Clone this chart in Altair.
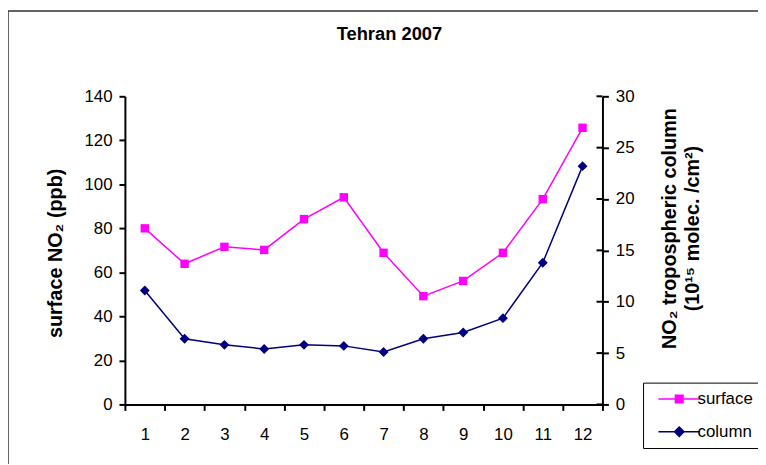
import altair as alt
import pandas as pd

months = list(range(1, 13))
surface = [80.0, 63.9, 71.6, 70.2, 84.2, 94.1, 68.9, 49.2, 56.1, 68.9, 93.3, 125.7]
column = [11.1, 6.4, 5.8, 5.4, 5.8, 5.7, 5.1, 6.4, 7.0, 8.4, 13.8, 23.2]
series_names = ["surface", "column"]
series_colors = ["#FF00FF", "#000080"]
left_ticks = [0, 20, 40, 60, 80, 100, 120, 140]
right_ticks = [0, 5, 10, 15, 20, 25, 30]

df = pd.DataFrame({"month": months, "surface": surface, "column": column})
rt = pd.DataFrame({"column": right_ticks})
frame = pd.DataFrame({"a": [0]})
leg = pd.DataFrame({"series": series_names})

W, H = 482, 311
FONT = "Liberation Sans"

legend_paths = [
    "M-3,0H3M-0.55,-0.55H0.55V0.55H-0.55Z",
    "M-3,0H3M0,-0.68L0.68,0L0,0.68L-0.68,0Z",
]

def make_legend():
    return alt.Legend(
        title=None, orient="none", legendX=523, legendY=289,
        strokeColor="#000000", fillColor="white", padding=8,
        labelFont=FONT, labelFontSize=17, labelColor="black",
        symbolSize=196, symbolStrokeWidth=1.5, symbolOffset=20, labelOffset=10,
        symbolOpacity=1, rowPadding=15,
    )

color = alt.Color("series:N", scale=alt.Scale(domain=series_names, range=series_colors),
                  legend=make_legend())
shape = alt.Shape("series:N", scale=alt.Scale(domain=series_names, range=legend_paths),
                  legend=make_legend())

x = alt.X(
    "month:O",
    scale=alt.Scale(type="band", paddingInner=0, paddingOuter=0),
    axis=alt.Axis(title=None, labelAngle=0, tickBand="extent", labelPadding=16),
)

y_left = alt.Y(
    "surface:Q",
    scale=alt.Scale(domain=[0, 140], nice=False),
    axis=alt.Axis(orient="left", values=left_ticks, title="surface NO₂ (ppb)",
                  labelPadding=7, titleAngle=270, titleX=-70, titleY=158,
                  titleBaseline="middle", titleAlign="center"),
)
y_right = alt.Y(
    "column:Q",
    scale=alt.Scale(domain=[0, 30], nice=False),
    axis=alt.Axis(orient="right", values=right_ticks,
                  title=["NO₂ tropospheric column", "(10¹⁵ molec. /cm²)"],
                  labelPadding=7, titleAngle=270, titleX=68, titleY=133,
                  titleBaseline="middle", titleAlign="center", titleLineHeight=23),
)

surf_base = alt.Chart(df).transform_calculate(series="'surface'")
surf_line = surf_base.mark_line(strokeWidth=1.5).encode(x=x, y=y_left, color=color)
surf_pts = surf_base.mark_point(shape="square", filled=True, size=72, opacity=1).encode(
    x=x, y=y_left, color=color)

col_base = alt.Chart(df).transform_calculate(series="'column'")
col_line = col_base.mark_line(strokeWidth=1.5).encode(x=x, y=y_right, color=color)
col_pts = col_base.mark_point(shape="diamond", filled=True, size=100, opacity=1).encode(
    x=x, y=y_right, color=color)

inner_ticks = alt.Chart(rt).mark_rule(color="black", strokeWidth=2).encode(
    y=y_right, x=alt.value(W - 6), x2=alt.value(W),
)

legend_layer = alt.Chart(leg).mark_point(filled=True, opacity=0, size=196).encode(
    color=color, shape=shape, x=alt.value(0), y=alt.value(0))

border = alt.Chart(frame).mark_rect(filled=False, stroke="#333333", strokeWidth=1.5).encode(
    x=alt.value(-118), x2=alt.value(W + 300), y=alt.value(-86), y2=alt.value(H + 200)
)

chart = alt.layer(
    border,
    alt.layer(surf_line, surf_pts),
    alt.layer(col_line, col_pts, inner_ticks),
    legend_layer,
).resolve_scale(y="independent").properties(
    width=W, height=H,
    padding={"left": 118, "top": 87, "right": 157, "bottom": 58},
    autosize=alt.AutoSizeParams(type="none"),
    title=alt.TitleParams("Tehran 2007", font=FONT, fontSize=18.5, fontWeight="bold",
                          color="black", offset=-33, dx=26, frame="group"),
    background="white",
).configure_view(stroke=None).configure_axis(
    domainColor="black", domainWidth=2, tickColor="black", tickWidth=2, tickSize=6,
    labelFont=FONT, labelFontSize=17, labelColor="black",
    titleFont=FONT, titleFontSize=20, titleFontWeight="bold", titleColor="black",
    grid=False,
)

chart.save("out.html", embed_options={"renderer": "svg", "actions": False})
